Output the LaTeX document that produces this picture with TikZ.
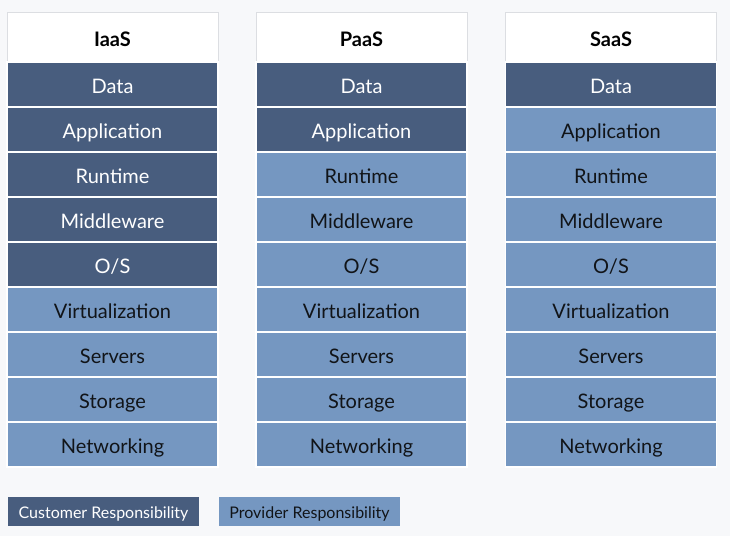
\documentclass[tikz,border=0pt]{standalone}
\usepackage{fontspec}
\setmainfont{Lato}
\definecolor{bgc}{HTML}{F7F8FA}
\definecolor{cust}{HTML}{485D7E}
\definecolor{prov}{HTML}{7597C1}
\definecolor{hdrline}{HTML}{DCDEE2}
\definecolor{txtdark}{HTML}{111418}
\tikzset{
  cellbase/.style={rectangle, minimum width=211pt, minimum height=45pt, inner sep=0pt,
    draw=white, line width=1.2pt},
  custcell/.style={cellbase, fill=cust},
  provcell/.style={cellbase, fill=prov},
  celltext/.style={inner sep=0pt, text height=14.4pt, text depth=0pt, font=\fontsize{20}{22}\selectfont},
  hdrcell/.style={rectangle, minimum width=211pt, minimum height=50pt, inner sep=0pt,
    fill=white, draw=hdrline, line width=0.8pt},
  custleg/.style={rectangle, minimum width=191pt, minimum height=29pt, inner sep=0pt, fill=cust},
  provleg/.style={rectangle, minimum width=181pt, minimum height=29pt, inner sep=0pt, fill=prov},
  legtext/.style={inner sep=0pt, text height=11.6pt, text depth=0pt, font=\fontsize{16}{18}\selectfont}
}
\begin{document}
\begin{tikzpicture}[x=1pt,y=-1pt]
\fill[bgc] (0,0) rectangle (730,536);
\useasboundingbox (0,0) rectangle (730,536);
\def\rows{Data,Application,Runtime,Middleware,O/S,Virtualization,Servers,Storage,Networking}
\foreach \cx/\name/\title/\ncust in {112.5/i/IaaS/5, 361.5/p/PaaS/2, 611/s/SaaS/1}{
  \node[hdrcell] (\name h) at (\cx,37) {};
  \node[celltext, text=black, font=\fontsize{20}{22}\selectfont\bfseries] (\name ht) at (\cx,39.2) {\title};
  \foreach \r [count=\k] in \rows {
    \pgfmathsetmacro{\cy}{84.5+45*(\k-1)}
    \pgfmathsetmacro{\ty}{\cy+2.2}
    \ifnum\k>\ncust
      \node[provcell] (\name\k) at (\cx,\cy) {};
      \node[celltext, text=txtdark] (\name\k t) at (\cx,\ty) {\r};
    \else
      \node[custcell] (\name\k) at (\cx,\cy) {};
      \node[celltext, text=white] (\name\k t) at (\cx,\ty) {\r};
    \fi
  }
}
\node[custleg] (legc) at (103.5,511.5) {};
\node[legtext, text=white] (legct) at (103.5,512.5) {Customer Responsibility};
\node[provleg] (legp) at (309.5,511.5) {};
\node[legtext, text=txtdark] (legpt) at (309.5,512.5) {Provider Responsibility};
\end{tikzpicture}
\end{document}
